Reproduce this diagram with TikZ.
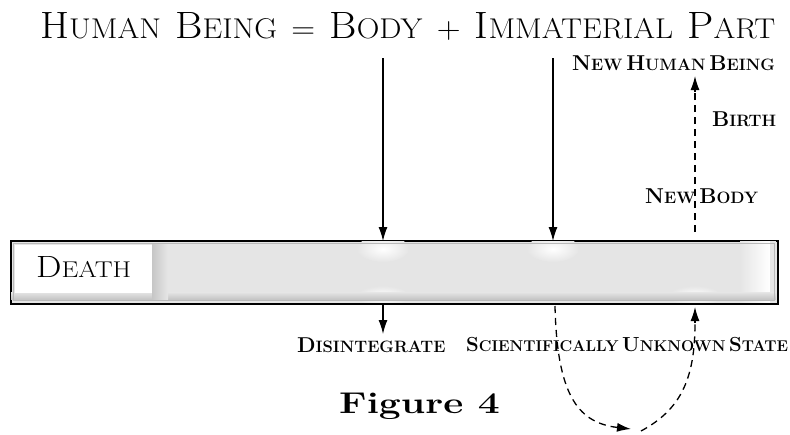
\documentclass[tikz,border=0pt]{standalone}
\usepackage{fontspec}
\usetikzlibrary{arrows.meta}
\newcommand\bc[2]{{\fontsize{21.5}{21.5}\selectfont #1}{\fontsize{16.5}{16.5}\selectfont #2}}
\newcommand\tc[2]{{\fontsize{38}{38}\selectfont #1}{\fontsize{28.5}{28.5}\selectfont #2}}
\newcommand\tsp{\hspace{13pt}}
\tikzset{
  lbl/.style={font=\bfseries, inner sep=0pt, anchor=base west},
  solidarrow/.style={line width=1.3pt, -{Latex[length=14pt,width=9pt]}},
  dashline/.style={line width=1.3pt, dash pattern=on 7pt off 5pt},
}
\begin{document}
\begin{tikzpicture}[x=1pt,y=-1pt]
\useasboundingbox (0,0) rectangle (790,434);
\fill[white] (0,0) rectangle (790,434);

% title
\node[inner sep=0pt, anchor=base west] (title) at (40,38)
  {\resizebox{735pt}{26pt}{\tc{H}{UMAN}\tsp\tc{B}{EING}\tsp{\fontsize{30}{30}\selectfont =}\tsp\tc{B}{ODY}\tsp{\fontsize{30}{30}\selectfont +}\tsp\tc{I}{MMATERIAL}\tsp\tc{P}{ART}}};

% bar
\node[draw=black, line width=1.6pt, fill=gray!20, minimum width=767pt, minimum height=63pt,
      inner sep=0pt, anchor=north west] (bar) at (10,240) {};
\begin{scope}
  \clip (11,241) rectangle (776,302);
  \shade[inner color=white, outer color=gray!20] (383,249) ellipse (26 and 13);
  \shade[inner color=white, outer color=gray!20] (553,249) ellipse (26 and 13);
  \shade[inner color=white, outer color=gray!20] (383,296) ellipse (26 and 10);
  \shade[inner color=white, outer color=gray!20] (695,296) ellipse (26 and 10);
  \shade[left color=gray!20, right color=white] (740,241) rectangle (770,302);
  \fill[gray!20] (770,241) rectangle (776,302);
  \shade[top color=gray!20, bottom color=gray!45] (11,292) rectangle (776,299);
  \shade[left color=gray!45, right color=gray!20] (152,244) rectangle (168,300);
\end{scope}
\draw[gray!55, line width=0.6pt] (13,243) rectangle (774,300);
\node[fill=white, minimum width=137pt, minimum height=48pt, inner sep=0pt, anchor=north west] (deathbox) at (15,245) {};
\node[inner sep=0pt, anchor=base west] (death) at (36,277)
  {\resizebox{95pt}{21pt}{\fontsize{31}{31}\selectfont D{\fontsize{23}{23}\selectfont EATH}}};

% labels above
\node[lbl] (nhb) at (572,70) {\bc{N}{EW} \bc{H}{UMAN} \bc{B}{EING}};
\node[lbl] (birth) at (712,126) {\bc{B}{IRTH}};
\node[lbl] (newbody) at (645,203) {\bc{N}{EW} \bc{B}{ODY}};

% labels below
\node[lbl] (disint) at (297,352) {\bc{D}{ISINTEGRATE}};
\node[lbl] (sus) at (466,351) {\resizebox{322pt}{!}{\bc{S}{CIENTIFICALLY} \bc{U}{NKNOWN} \bc{S}{TATE}}};
\node[inner sep=0pt, anchor=base west, font=\bfseries\fontsize{30}{30}\selectfont] (fig) at (339,413) {\scalebox{1.3}[1]{Figure 4}};

% coordinates
\coordinate (bodytop) at (383,58);
\coordinate (bodybar) at (383,241);
\coordinate (immtop) at (553,58);
\coordinate (immbar) at (553,241);
\coordinate (nbbar) at (695,232);
\coordinate (nhbbot) at (695,76);
\coordinate (nhbpre) at (695,92);
\coordinate (disbar) at (383,304);
\coordinate (distop) at (383,334);
\coordinate (susbar) at (555,306);
\coordinate (bottompre) at (614,427);
\coordinate (bottomtip) at (631,429);
\coordinate (bottomstart) at (641,431);
\coordinate (retpre) at (695,323);
\coordinate (retbar) at (695,307);

\draw[solidarrow] (bodytop) -- (bodybar);
\draw[solidarrow] (immtop) -- (immbar);
\draw[solidarrow] (disbar) -- (distop);
% dashed connectors, tips drawn solid
\draw[dashline] (nbbar) -- (nhbpre);
\draw[solidarrow] (nhbpre) -- (nhbbot);
\draw[dashline] (susbar) .. controls (557,395) and (578,421) .. (bottompre);
\draw[solidarrow] (bottompre) -- (bottomtip);
\draw[dashline] (bottomstart) .. controls (680,410) and (695,380) .. (retpre);
\draw[solidarrow] (retpre) -- (retbar);
\end{tikzpicture}
\end{document}
